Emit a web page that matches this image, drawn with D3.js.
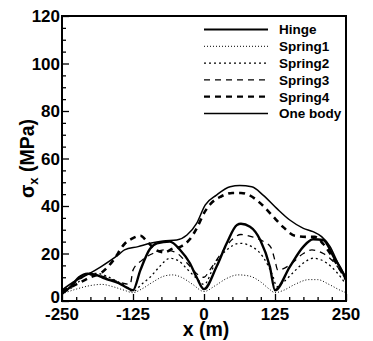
<!DOCTYPE html>
<html>
<head>
<meta charset="utf-8">
<script src="https://cdn.jsdelivr.net/npm/d3@7"></script>
<style>
  body { margin: 0; background: #fff; }
  svg { display: block; font-family: "Liberation Sans", Arial, sans-serif; font-weight: bold; }
</style>
</head>
<body>
<svg id="chart" width="373" height="341"></svg>
<script>
// values: x in m, sigma_x in MPa
const hingeX   = [-250, -235, -220, -205, -190, -175, -150, -135, -125, -112, -95, -83, -60, -42, -25, -13, 0, 22, 40, 58, 65, 81, 99, 116, 125, 151, 175, 192, 210, 228, 245, 250];
const hingeY   = [3, 6, 10, 11.5, 11, 9.5, 7.5, 5.5, 4.5, 13, 22, 24.3, 25, 21.5, 16, 10, 5, 14.4, 24.3, 32, 32.5, 31.3, 25.7, 14.4, 4.5, 14.4, 22.9, 26, 25.7, 18.7, 11.7, 9];
const spring1X = [-250, -225, -200, -180, -160, -140, -125, -110, -90, -70, -55, -40, -20, 0, 20, 40, 60, 80, 100, 115, 125, 140, 160, 185, 200, 220, 240, 250];
const spring1Y = [3, 5, 6.5, 7, 6, 4.5, 3.5, 5, 8, 10.5, 11, 10, 7, 4, 6.5, 9.5, 11, 10.5, 8, 5, 3.5, 4.5, 7, 9, 9, 7, 4.5, 3.5];
const spring2X = [-250, -225, -204, -185, -163, -140, -125, -110, -95, -80, -60, -45, -30, -15, 0, 20, 40, 63, 87, 104, 122, 128, 140, 157, 175, 192, 216, 234, 250];
const spring2Y = [3, 7, 11.7, 11.5, 9.5, 6.5, 4, 7, 10, 14, 18, 17, 13.5, 10, 7, 16, 21.5, 24.3, 22.5, 18.5, 10, 6, 8, 12, 16, 18, 16, 12, 7];
const spring3X = [-250, -225, -205, -180, -150, -130, -125, -110, -90, -70, -50, -30, -10, 0, 10, 30, 50, 65, 85, 105, 118, 125, 130, 150, 175, 190, 210, 230, 250];
const spring3Y = [4, 8, 11, 10.5, 8, 7, 13, 17, 20, 21.5, 20.5, 16, 11, 10, 13, 20, 26, 28, 27, 25, 22.5, 17, 13, 15, 20, 21.5, 20, 16, 9];
const spring4X = [-250, -225, -200, -180, -160, -140, -125, -112, -100, -85, -70, -55, -40, -25, -12, 0, 12, 30, 50, 65, 80, 100, 120, 140, 160, 180, 195, 210, 230, 250];
const spring4Y = [4, 7, 10, 12, 17, 24, 26.5, 27.5, 25, 21.5, 20.5, 22, 23, 26, 31, 37, 41, 44, 45.5, 45.5, 44.5, 41, 36, 31, 27.5, 27, 27, 24, 17, 9];
const oneBodyX = [-250, -230, -206, -181, -151, -140, -116, -95, -72, -48, -30, -13, 2, 22, 46, 63, 84, 104, 128, 151, 175, 192, 207, 222, 236, 250];
const oneBodyY = [4.6, 8, 11, 14.5, 19.4, 21.5, 22.9, 24.3, 25.3, 25.7, 27.8, 32.7, 40.4, 44.6, 48.1, 48.6, 48.1, 44.6, 39, 34.1, 30.6, 29.2, 27.1, 22.9, 15.9, 10];

const seriesNames = ["Hinge", "Spring1", "Spring2", "Spring3", "Spring4", "One body"];
const xTicks = [-250, -125, 0, 125, 250];
const yTicks = [0, 20, 40, 60, 80, 100, 120];

const svg = d3.select("#chart");
const pLeft = 62, pRight = 346, pTop = 16, pBottom = 301;

const x = d3.scaleLinear().domain([-250, 250]).range([pLeft, pRight]);
const y = d3.scaleLinear().domain([0, 120]).range([pBottom, pTop]);

// line styles for each series, same order as seriesNames
const styles = [
    { w: 2.4, dash: null },
    { w: 1, dash: "1,2" },
    { w: 1.3, dash: "2,3" },
    { w: 1.3, dash: "6,5" },
    { w: 2.6, dash: "6,5" },
    { w: 1.5, dash: null }
];
const seriesData = [
    [hingeX, hingeY], [spring1X, spring1Y], [spring2X, spring2Y],
    [spring3X, spring3Y], [spring4X, spring4Y], [oneBodyX, oneBodyY]
];

const line = d3.line()
    .x(d => x(d[0]))
    .y(d => y(d[1]))
    .curve(d3.curveMonotoneX);

seriesData.forEach((s, i) => {
    const pts = s[0].map((v, j) => [v, s[1][j]]);
    svg.append("path")
        .attr("d", line(pts))
        .attr("fill", "none")
        .attr("stroke", "#000")
        .attr("stroke-width", styles[i].w)
        .attr("stroke-dasharray", styles[i].dash);
});

// inward ticks
const xAxis = d3.axisTop(x).tickValues(d3.range(-250, 251, 25)).tickFormat("").tickSizeOuter(0)
    .tickSize(4);
svg.append("g").attr("transform", `translate(0,${pBottom})`).call(xAxis)
    .call(g => g.select(".domain").remove())
    .selectAll("line").attr("stroke", "#000").attr("stroke-width", 1.3)
    .attr("y2", d => xTicks.includes(d) ? -7 : -4);

const yAxis = d3.axisRight(y).tickValues(d3.range(0, 121, 5)).tickFormat("").tickSizeOuter(0)
    .tickSize(4);
svg.append("g").attr("transform", `translate(${pLeft},0)`).call(yAxis)
    .call(g => g.select(".domain").remove())
    .selectAll("line").attr("stroke", "#000").attr("stroke-width", 1.3)
    .attr("x2", d => yTicks.includes(d) ? 7 : 4);

// frame
svg.append("rect")
    .attr("x", pLeft).attr("y", pTop)
    .attr("width", pRight - pLeft).attr("height", pBottom - pTop)
    .attr("fill", "none").attr("stroke", "#000").attr("stroke-width", 2);

// tick labels
svg.selectAll(".xl").data(xTicks).enter().append("text")
    .attr("x", d => x(d)).attr("y", 320)
    .attr("text-anchor", "middle").attr("font-size", 17)
    .text(d => d);

svg.selectAll(".yl").data(yTicks).enter().append("text")
    .attr("x", 60).attr("y", d => d === 0 ? y(d) + 2 : y(d) + 6)
    .attr("text-anchor", "end").attr("font-size", 17)
    .text(d => d);

// axis titles
svg.append("text")
    .attr("x", (pLeft + pRight) / 2 + 2).attr("y", 336)
    .attr("text-anchor", "middle").attr("font-size", 19.5)
    .text("x (m)");

const yt = svg.append("text")
    .attr("transform", `translate(34,${(pTop + pBottom) / 2}) rotate(-90)`)
    .attr("text-anchor", "middle").attr("font-size", 19.5);
yt.append("tspan").text("σ");
yt.append("tspan").attr("font-size", 13).attr("dy", 4).text("x");
yt.append("tspan").attr("dy", -4).text(" (MPa)");

// legend
const leg = svg.append("g");
seriesNames.forEach((name, i) => {
    const ly = 29.5 + i * 16.8;
    leg.append("line")
        .attr("x1", 204).attr("x2", 268).attr("y1", ly).attr("y2", ly)
        .attr("stroke", "#000")
        .attr("stroke-width", Math.min(styles[i].w, 2.2))
        .attr("stroke-dasharray", styles[i].dash);
    leg.append("text")
        .attr("x", 279).attr("y", ly).attr("dy", "0.36em")
        .attr("font-size", 13.5)
        .text(name);
});
</script>
</body>
</html>
